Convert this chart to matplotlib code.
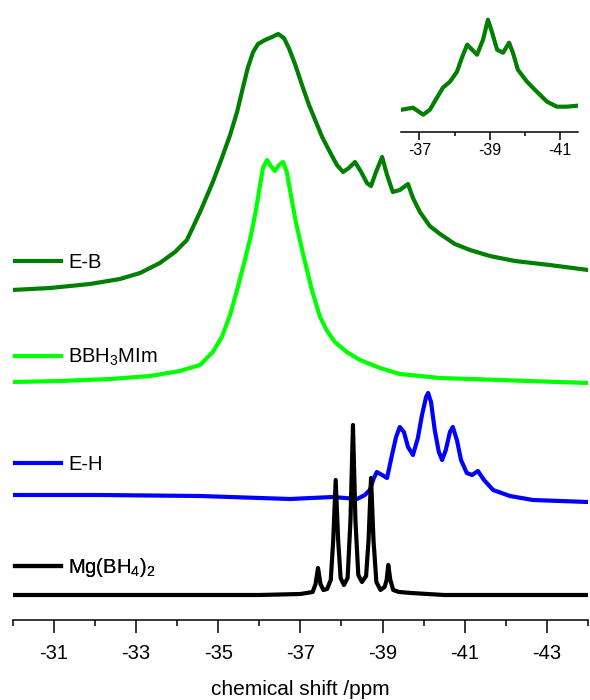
import numpy as np
import matplotlib
matplotlib.use("Agg")
import matplotlib.pyplot as plt

plt.rcParams['font.family'] = ['Liberation Sans', 'DejaVu Sans']
plt.rcParams['mathtext.default'] = 'regular'

# ------------------------------------------------------------
# DATA (ppm, stacked intensity)
# ------------------------------------------------------------
eb_ppm = [-29.98, -30.91, -31.88, -32.61, -33.10, -33.58, -33.95, -34.24, -34.56, -34.87,
          -35.09, -35.29, -35.46, -35.60, -35.72, -35.85, -35.97, -36.14, -36.31, -36.46,
          -36.60, -36.72, -36.87, -37.04, -37.21, -37.38, -37.53, -37.72, -37.89, -38.04,
          -38.18, -38.33, -38.48, -38.62, -38.72, -38.84, -38.99, -39.11, -39.25, -39.42,
          -39.62, -39.74, -39.91, -40.15, -40.40, -40.76, -41.13, -41.61, -42.22, -43.07,
          -44.0]
eb_int = [330, 332, 336, 341, 347, 357, 368, 380, 408, 438,
          462, 485, 508, 532, 552, 568, 576, 580, 583, 586,
          582, 572, 556, 535, 515, 498, 483, 468, 455, 448,
          452, 458, 448, 437, 434, 448, 463, 445, 428, 430,
          436, 422, 408, 394, 386, 376, 370, 364, 359, 355,
          350]

bb_ppm = [-29.98, -31.15, -32.37, -33.34, -34.07, -34.56, -34.87, -35.09, -35.29, -35.48,
          -35.65, -35.80, -35.92, -36.02, -36.09, -36.19, -36.28, -36.38, -36.48, -36.58,
          -36.67, -36.77, -36.89, -37.06, -37.28, -37.48, -37.65, -37.84, -38.13, -38.45,
          -38.94, -39.42, -40.40, -41.86, -44.0]
bb_int = [238, 239, 241, 244, 249, 255, 268, 283, 305, 333,
          360, 385, 410, 435, 452, 460, 454, 449, 455, 458,
          448, 425, 398, 367, 330, 303, 289, 278, 268, 260,
          252, 246, 242, 240, 237]

eh_ppm = [-29.98, -32.12, -34.56, -36.75, -37.79, -38.38, -38.57, -38.69, -38.79, -38.86,
          -38.99, -39.11, -39.23, -39.33, -39.42, -39.52, -39.62, -39.74, -39.86, -39.96,
          -40.06, -40.11, -40.18, -40.27, -40.37, -40.45, -40.54, -40.64, -40.71, -40.81,
          -40.91, -41.05, -41.18, -41.32, -41.47, -41.69, -42.10, -42.66, -44.0]
eh_int = [125, 125, 124, 121, 123, 121, 125, 130, 142, 148,
          145, 142, 165, 183, 193, 188, 173, 165, 182, 205,
          223, 227, 218, 190, 168, 160, 170, 188, 193, 180,
          160, 147, 145, 149, 140, 130, 124, 120, 118]

mg_ppm = [-29.98, -33.0, -36.0, -37.0, -37.3, -37.37, -37.43, -37.49, -37.56, -37.65,
          -37.74, -37.8, -37.86, -37.92, -37.98, -38.06, -38.15, -38.22, -38.28, -38.34,
          -38.41, -38.5, -38.6, -38.66, -38.72, -38.78, -38.85, -38.95, -39.05, -39.1,
          -39.14, -39.19, -39.26, -39.4, -39.7, -40.5, -44.0]
mg_int = [25, 25, 25, 26, 28, 36, 52, 36, 30, 31,
          40, 80, 140, 80, 42, 35, 42, 100, 195, 100,
          45, 38, 44, 80, 142, 80, 38, 30, 33, 40,
          55, 40, 30, 28, 27, 25, 25]

# inset: E-B zoomed region
ins_ppm = [-36.50, -36.82, -37.11, -37.30, -37.50, -37.67, -37.87, -38.07, -38.21, -38.36,
           -38.50, -38.64, -38.81, -38.95, -39.07, -39.21, -39.38, -39.55, -39.66, -39.80,
           -40.06, -40.34, -40.63, -40.91, -41.19, -41.50]
ins_int = [22, 24, 17, 22, 34, 44, 50, 60, 74, 87,
           82, 77, 92, 112, 99, 82, 79, 89, 79, 62,
           50, 40, 30, 25, 25, 26]

labels = ['E-B', 'BBH$_3$MIm', 'E-H', 'Mg(BH$_4$)$_2$']
colors = ['#007F00', '#00FF00', '#0000FF', '#000000']
label_y = [0.576, 0.423, 0.250, 0.085]

major_ticks = [-31, -33, -35, -37, -39, -41, -43]
minor_ticks = [-30, -32, -34, -36, -38, -40, -42, -44]
inset_major = [-37, -39, -41]
inset_minor = [-38, -40]

# ------------------------------------------------------------
# PLOT
# ------------------------------------------------------------
fig = plt.figure(figsize=(5.9, 7.0), dpi=100)
ax = fig.add_axes([12.7 / 590, 80 / 700, 575.3 / 590, 620 / 700])

series = [(eb_ppm, eb_int), (bb_ppm, bb_int), (eh_ppm, eh_int), (mg_ppm, mg_int)]
lines = []
for (xs, ys), c in zip(series, colors):
    ln, = ax.plot(xs, ys, color=c, lw=3.0, solid_joinstyle='round')
    lines.append(ln)

ax.set_xlim(-30, -44)
ax.set_ylim(0, 620)
for s in ['left', 'right', 'top']:
    ax.spines[s].set_visible(False)
ax.spines['bottom'].set_linewidth(1.1)
ax.set_yticks([])
ax.set_xticks(major_ticks)
ax.set_xticklabels([str(t) for t in major_ticks])
ax.set_xticks(minor_ticks, minor=True)
ax.tick_params(axis='x', which='major', direction='out', length=9.5, width=1.1,
               labelsize=14.5, pad=8)
ax.tick_params(axis='x', which='minor', direction='out', length=4.5, width=1.1)
ax.set_xlabel('chemical shift /ppm', fontsize=15, labelpad=12)

# one small legend next to each trace
for ln, lab, yy in zip(lines, labels, label_y):
    leg = ax.legend([ln], [lab], loc='center left', bbox_to_anchor=(0.004, yy),
                    frameon=False, fontsize=14.5, handlelength=2.3, handletextpad=0.35,
                    borderpad=0, borderaxespad=0)
    ax.add_artist(leg)

# inset
axi = fig.add_axes([400.7 / 590, (700 - 131.7) / 700, 177.3 / 590, 126 / 700])
axi.plot(ins_ppm, ins_int, color=colors[0], lw=3.0, solid_joinstyle='round')
axi.set_xlim(-36.47, -41.51)
axi.set_ylim(0, 126)
for s in ['left', 'right', 'top']:
    axi.spines[s].set_visible(False)
axi.spines['bottom'].set_linewidth(1.1)
axi.set_yticks([])
axi.set_xticks(inset_major)
axi.set_xticklabels([str(t) for t in inset_major])
axi.set_xticks(inset_minor, minor=True)
axi.tick_params(axis='x', which='major', direction='out', length=6, width=1.1,
                labelsize=11.5, pad=2)
axi.tick_params(axis='x', which='minor', direction='out', length=3, width=1.1)
axi.patch.set_alpha(0)

plt.savefig('out.png', dpi=100)
